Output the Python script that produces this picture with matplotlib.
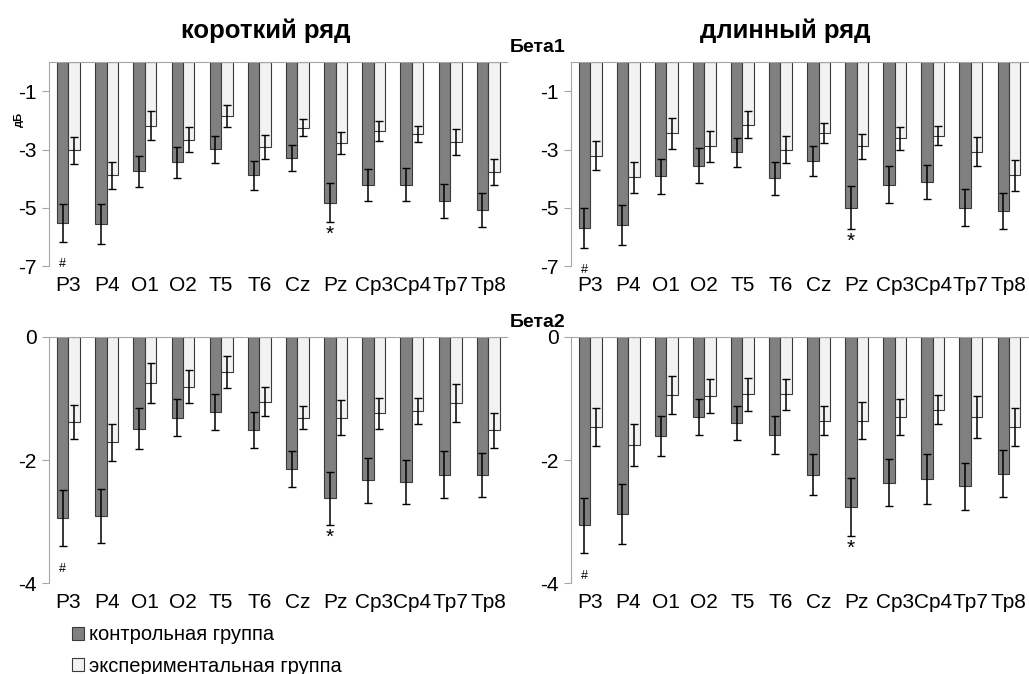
import numpy as np
import matplotlib
matplotlib.use("Agg")
import matplotlib.pyplot as plt

plt.rcParams['font.family'] = ['Liberation Sans', 'DejaVu Sans']

# отведения
leads = ["P3", "P4", "O1", "O2", "T5", "T6", "Cz", "Pz", "Cp3", "Cp4", "Tp7", "Tp8"]

# Бета1, короткий ряд
b1_short_ctrl = [-5.52, -5.55, -3.74, -3.44, -2.99, -3.89, -3.29, -4.82, -4.22, -4.20, -4.77, -5.07]
b1_short_ctrl_err = [0.65, 0.69, 0.53, 0.54, 0.47, 0.50, 0.44, 0.66, 0.54, 0.56, 0.59, 0.57]
b1_short_exp = [-3.03, -3.89, -2.18, -2.66, -1.85, -2.92, -2.25, -2.77, -2.36, -2.47, -2.74, -3.77]
b1_short_exp_err = [0.46, 0.46, 0.49, 0.44, 0.38, 0.41, 0.28, 0.38, 0.35, 0.26, 0.45, 0.45]

# Бета1, длинный ряд
b1_long_ctrl = [-5.70, -5.59, -3.92, -3.55, -3.10, -3.99, -3.40, -4.99, -4.20, -4.11, -4.99, -5.11]
b1_long_ctrl_err = [0.69, 0.69, 0.59, 0.59, 0.51, 0.56, 0.52, 0.75, 0.62, 0.58, 0.63, 0.63]
b1_long_exp = [-3.21, -3.95, -2.44, -2.89, -2.15, -3.00, -2.44, -2.89, -2.62, -2.52, -3.07, -3.89]
b1_long_exp_err = [0.49, 0.53, 0.53, 0.53, 0.46, 0.46, 0.35, 0.42, 0.40, 0.34, 0.50, 0.53]

# Бета2, короткий ряд
b2_short_ctrl = [-2.94, -2.91, -1.49, -1.31, -1.22, -1.51, -2.15, -2.62, -2.33, -2.36, -2.24, -2.24]
b2_short_ctrl_err = [0.46, 0.44, 0.33, 0.30, 0.29, 0.29, 0.29, 0.43, 0.37, 0.36, 0.38, 0.36]
b2_short_exp = [-1.38, -1.71, -0.75, -0.81, -0.57, -1.05, -1.31, -1.31, -1.24, -1.20, -1.07, -1.52]
b2_short_exp_err = [0.28, 0.30, 0.32, 0.27, 0.26, 0.24, 0.19, 0.28, 0.25, 0.21, 0.31, 0.28]

# Бета2, длинный ряд
b2_long_ctrl = [-3.06, -2.88, -1.61, -1.30, -1.40, -1.59, -2.24, -2.76, -2.37, -2.31, -2.43, -2.22]
b2_long_ctrl_err = [0.45, 0.49, 0.33, 0.29, 0.28, 0.31, 0.33, 0.47, 0.38, 0.40, 0.38, 0.38]
b2_long_exp = [-1.46, -1.75, -0.94, -0.96, -0.93, -0.93, -1.36, -1.36, -1.30, -1.18, -1.30, -1.46]
b2_long_exp_err = [0.31, 0.34, 0.31, 0.27, 0.27, 0.25, 0.24, 0.30, 0.30, 0.24, 0.34, 0.31]

CTRL_COLOR = '#808080'
EXP_COLOR = '#f2f2f2'
EDGE = '#3a3a3a'
SPINE = '#a6a6a6'

fig = plt.figure(figsize=(10.29, 6.74), dpi=100)

top_h = 0.303
bot_h = 0.365
panels = [
    ([0.048, 0.605, 0.445, top_h], b1_short_ctrl, b1_short_ctrl_err, b1_short_exp, b1_short_exp_err, -7, [-1, -3, -5, -7], 0.75),
    ([0.555, 0.605, 0.444, top_h], b1_long_ctrl, b1_long_ctrl_err, b1_long_exp, b1_long_exp_err, -7, [-1, -3, -5, -7], 0.75),
    ([0.048, 0.135, 0.445, bot_h], b2_short_ctrl, b2_short_ctrl_err, b2_short_exp, b2_short_exp_err, -4, [0, -2, -4], 0.38),
    ([0.555, 0.135, 0.444, bot_h], b2_long_ctrl, b2_long_ctrl_err, b2_long_exp, b2_long_exp_err, -4, [0, -2, -4], 0.38),
]

x = np.arange(len(leads))
w = 0.3
axes = []
for rect, ctrl, ctrl_err, exp, exp_err, ymin, yt, off in panels:
    ax = fig.add_axes(rect)
    ax.bar(x - w / 2, ctrl, w, color=CTRL_COLOR, edgecolor=EDGE, linewidth=0.8,
           yerr=ctrl_err, error_kw=dict(ecolor='black', elinewidth=1.1, capsize=3, capthick=1.0),
           label='контрольная группа')
    ax.bar(x + w / 2, exp, w, color=EXP_COLOR, edgecolor=EDGE, linewidth=0.8,
           yerr=exp_err, error_kw=dict(ecolor='black', elinewidth=1.1, capsize=3, capthick=1.0),
           label='экспериментальная группа')
    ax.set_xlim(-0.5, len(leads) - 0.5)
    ax.set_ylim(ymin, 0)
    ax.set_yticks(yt)
    ax.set_yticklabels([str(v) for v in yt], fontsize=15)
    ax.set_xticks(x)
    ax.set_xticklabels(leads, fontsize=15)
    ax.tick_params(axis='x', length=0, pad=7)
    ax.tick_params(axis='y', length=5, color=SPINE, pad=4)
    for s in ['right', 'bottom']:
        ax.spines[s].set_visible(False)
    ax.spines['left'].set_color(SPINE)
    ax.spines['top'].set_color(SPINE)
    # значимость: # у P3, * у Pz
    i = leads.index('P3')
    ax.text(x[i] - w / 2, ctrl[i] - ctrl_err[i] - off, '#', ha='center', va='center', fontsize=9)
    i = leads.index('Pz')
    ax.text(x[i] - w / 2, ctrl[i] - ctrl_err[i] - off * 0.55, '*', ha='center', va='center', fontsize=15)
    axes.append(ax)

axes[0].set_ylabel('дБ', fontsize=8, fontweight='bold', labelpad=2)
axes[0].yaxis.set_label_coords(-0.055, 0.72)

fig.text(0.258, 0.955, 'короткий ряд', ha='center', va='center', fontsize=18.5, fontweight='bold')
fig.text(0.763, 0.955, 'длинный ряд', ha='center', va='center', fontsize=18.5, fontweight='bold')
fig.text(0.522, 0.93, 'Бета1', ha='center', va='center', fontsize=14, fontweight='bold')
fig.text(0.522, 0.522, 'Бета2', ha='center', va='center', fontsize=14, fontweight='bold')

h, l = axes[2].get_legend_handles_labels()
fig.legend(h, l, loc='upper left', bbox_to_anchor=(0.07, 0.072), frameon=False,
           fontsize=14.5, handlelength=0.6, handleheight=0.6, handletextpad=0.25,
           labelspacing=0.6, borderpad=0, borderaxespad=0)

fig.savefig('out.png', dpi=100)
